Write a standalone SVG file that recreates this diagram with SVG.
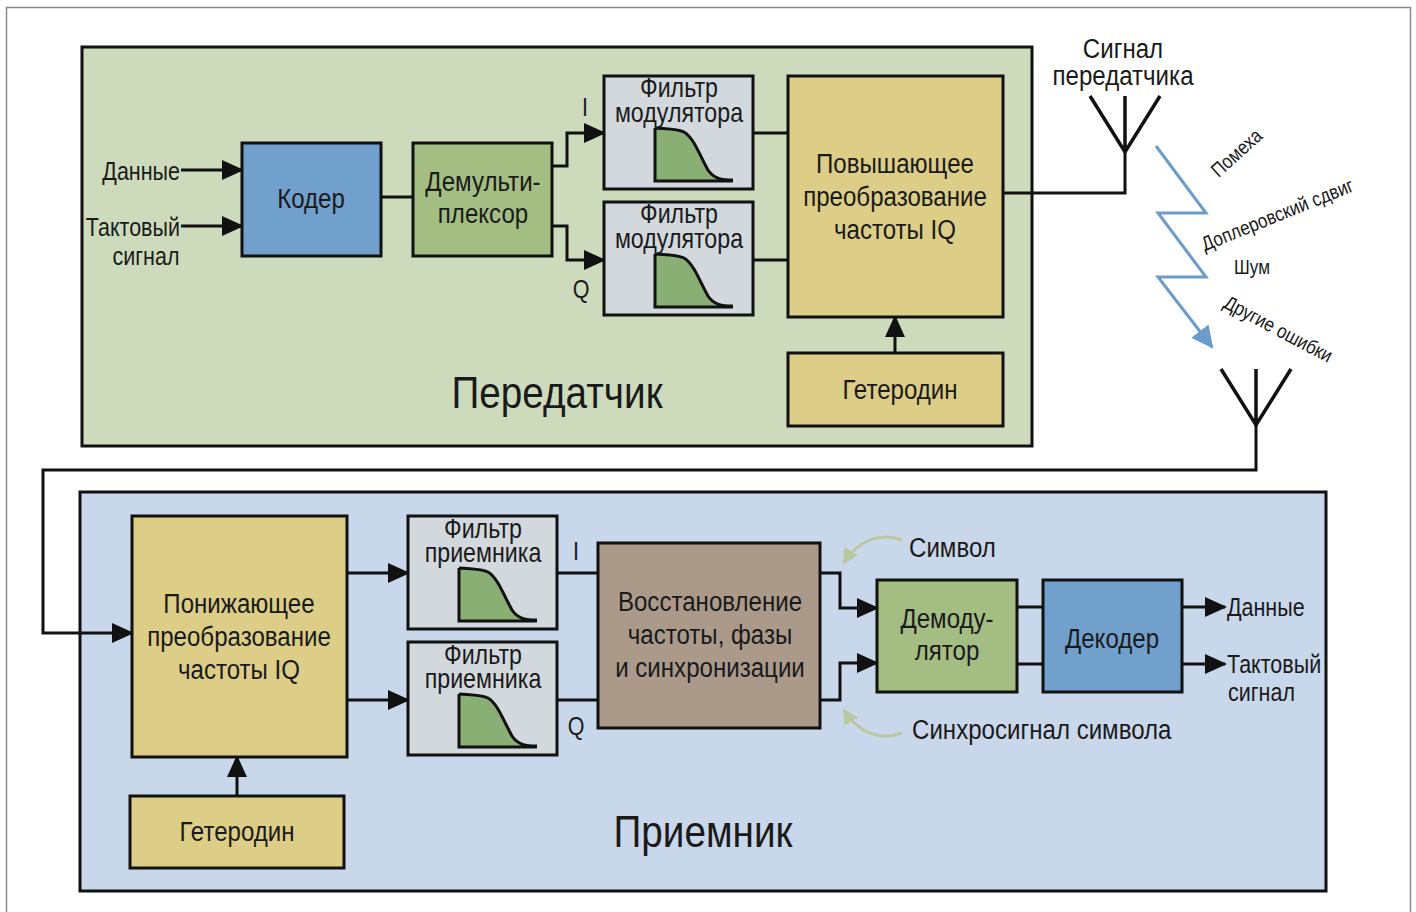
<svg xmlns="http://www.w3.org/2000/svg" xmlns:xlink="http://www.w3.org/1999/xlink" width="1416" height="912" viewBox="0 0 1416 912">
<style>
text{font-family:"Liberation Sans",Arial,sans-serif;fill:#1a1a1a}
.c{transform:scale(0.86,1)}
.t{font-size:28px;text-anchor:middle}
.f{font-size:27px;text-anchor:middle}
.s{font-size:25px}
.l{font-size:28px}
.m{text-anchor:middle}
.e{text-anchor:end}
.big{font-size:45px;text-anchor:middle}
.rot{font-size:20px;text-anchor:middle}
.box{stroke:#111;stroke-width:3}
.ln{fill:none;stroke:#111;stroke-width:3}
.ar{fill:none;stroke:#111;stroke-width:3;marker-end:url(#ah)}
.ant{fill:none;stroke:#111;stroke-width:3.5}
</style>
<defs>
<marker id="ah" markerUnits="userSpaceOnUse" markerWidth="22" markerHeight="20" viewBox="0 0 22 20" refX="20" refY="10" orient="auto"><path d="M0,0 L22,10 L0,20 Z" fill="#111"/></marker>
<marker id="ahb" markerUnits="userSpaceOnUse" markerWidth="22" markerHeight="22" viewBox="0 0 22 22" refX="20" refY="11" orient="auto"><path d="M0,0 L22,11 L0,22 Z" fill="#6c9ccb"/></marker>
<marker id="ahg" markerUnits="userSpaceOnUse" markerWidth="16" markerHeight="16" viewBox="0 0 16 16" refX="14" refY="8" orient="auto"><path d="M0,0 L16,8 L0,16 Z" fill="#b9c8a0"/></marker>
<g id="flt">
<rect x="0" y="0" width="149" height="113" fill="#d3d8dc" class="box"/>
<path d="M51,105 V52 C62,53 74,53 80,56 C90,62 96,80 104,94 C110,103 118,104 129,104 V105 Z" fill="#8aaf74"/>
<path d="M51,52 V105 H129 M51,52 C62,53 74,53 80,56 C90,62 96,80 104,94 C110,103 118,104 129,104" fill="none" stroke="#111" stroke-width="3"/>
</g>
</defs>
<rect x="6.5" y="7.5" width="1404" height="920" fill="#fff" stroke="#8a8a8a" stroke-width="1.5"/>

<g id="transmitter">
<rect x="82" y="47" width="950" height="399" fill="#cddbbc" class="box"/>
<text class="big c" x="647.67" y="408">Передатчик</text>
</g>
<g id="receiver">
<rect x="80" y="492" width="1246" height="399" fill="#c9d7ea" class="box"/>
<text class="big c" x="817.44" y="847">Приемник</text>
</g>

<g id="connectors">
<path class="ar" d="M181,170 H242"/>
<path class="ar" d="M181,226 H242"/>
<path class="ln" d="M381,197 H413"/>
<path class="ar" d="M552,166 H567 V133 H604"/>
<path class="ar" d="M552,226 H567 V260 H604"/>
<path class="ln" d="M753,133 H788 M753,260 H788"/>
<path class="ar" d="M895,353 V317"/>
<path class="ln" d="M1003,193 H1125 V152"/>
<path class="ar" d="M1256,425 V470 H43 V633 H132"/>
<path class="ar" d="M237,796 V757"/>
<path class="ar" d="M347,573 H408"/>
<path class="ar" d="M347,700 H408"/>
<path class="ln" d="M557,573 H598 M557,700 H598"/>
<path class="ar" d="M820,573 H840 V608 H877"/>
<path class="ar" d="M820,700 H840 V663 H877"/>
<path class="ln" d="M1017,607 H1043 M1017,664 H1043"/>
<path class="ar" d="M1182,607 H1225"/>
<path class="ar" d="M1182,664 H1225"/>
<path d="M1156,146 L1206,213 H1158 L1206,277 H1158 L1212,347" fill="none" stroke="#6c9ccb" stroke-width="3" marker-end="url(#ahb)"/>
<path d="M902,540 C880,532 858,540 844,563" fill="none" stroke="#b9c8a0" stroke-width="3" marker-end="url(#ahg)"/>
<path d="M902,733 C880,741 858,733 844,710" fill="none" stroke="#b9c8a0" stroke-width="3" marker-end="url(#ahg)"/>
</g>

<g id="tx-antenna">
<path class="ant" d="M1090,96 L1125,152 L1160,96 M1125,96 V152"/>
<text class="t c" x="1305.81" y="58">Сигнал</text>
<text class="t c" x="1305.81" y="85">передатчика</text>
</g>
<g id="rx-antenna">
<path class="ant" d="M1221,369 L1256,425 L1291,369 M1256,369 V425"/>
</g>
<g id="channel-labels">
<text class="rot" transform="translate(1241,158) rotate(-42) scale(0.86,1)">Помеха</text>
<text class="rot" transform="translate(1280,221) rotate(-22) scale(0.86,1)">Доплеровский сдвиг</text>
<text class="rot c" x="1455.81" y="274">Шум</text>
<text class="rot" transform="translate(1275,335) rotate(28) scale(0.86,1)">Другие ошибки</text>
</g>

<g id="in-labels">
<text class="s e c" x="209.3" y="180">Данные</text>
<text class="s e c" x="209.3" y="236">Тактовый</text>
<text class="s m c" x="169.77" y="265">сигнал</text>
</g>
<g id="coder"><rect x="242" y="143" width="139" height="113" fill="#71a0cc" class="box"/><text class="t c" x="361.63" y="208">Кодер</text></g>
<g id="demux"><rect x="413" y="143" width="139" height="113" fill="#a3bd82" class="box"/><text class="t c" x="561.63" y="191">Демульти-</text><text class="t c" x="561.63" y="223">плексор</text></g>
<g id="iq-tx"><text class="s m c" x="680.23" y="116">I</text><text class="s m c" x="675.58" y="298">Q</text></g>
<g id="modfilter-i"><use xlink:href="#flt" x="604" y="76"/><text class="f c" x="789.53" y="97">Фильтр</text><text class="f c" x="789.53" y="122">модулятора</text></g>
<g id="modfilter-q"><use xlink:href="#flt" x="604" y="202"/><text class="f c" x="789.53" y="223">Фильтр</text><text class="f c" x="789.53" y="248">модулятора</text></g>
<g id="upconv"><rect x="788" y="76" width="215" height="241" fill="#dccd87" class="box"/><text class="t c" x="1040.7" y="173">Повышающее</text><text class="t c" x="1040.7" y="206">преобразование</text><text class="t c" x="1040.7" y="239">частоты IQ</text></g>
<g id="lo-tx"><rect x="788" y="353" width="215" height="73" fill="#dccd87" class="box"/><text class="t c" x="1046.51" y="399">Гетеродин</text></g>

<g id="downconv"><rect x="132" y="516" width="215" height="241" fill="#dccd87" class="box"/><text class="t c" x="277.91" y="613">Понижающее</text><text class="t c" x="277.91" y="646">преобразование</text><text class="t c" x="277.91" y="679">частоты IQ</text></g>
<g id="lo-rx"><rect x="130" y="796" width="214" height="72" fill="#dccd87" class="box"/><text class="t c" x="275.58" y="841">Гетеродин</text></g>
<g id="rxfilter-i"><use xlink:href="#flt" x="408" y="516"/><text class="f c" x="561.63" y="538">Фильтр</text><text class="f c" x="561.63" y="562">приемника</text></g>
<g id="rxfilter-q"><use xlink:href="#flt" x="408" y="642"/><text class="f c" x="561.63" y="664">Фильтр</text><text class="f c" x="561.63" y="688">приемника</text></g>
<g id="iq-rx"><text class="s m c" x="669.77" y="560">I</text><text class="s m c" x="669.77" y="735">Q</text></g>
<g id="recovery"><rect x="598" y="543" width="222" height="185" fill="#ab998a" class="box"/><text class="t c" x="825.58" y="611">Восстановление</text><text class="t c" x="825.58" y="644">частоты, фазы</text><text class="t c" x="825.58" y="677">и синхронизации</text></g>
<g id="demod"><rect x="877" y="580" width="140" height="112" fill="#a3bd82" class="box"/><text class="t c" x="1101.16" y="628">Демоду-</text><text class="t c" x="1101.16" y="660">лятор</text></g>
<g id="decoder"><rect x="1043" y="580" width="139" height="112" fill="#71a0cc" class="box"/><text class="t c" x="1293.02" y="648">Декодер</text></g>
<g id="out-labels">
<text class="s c" x="1426.74" y="616">Данные</text>
<text class="s c" x="1426.74" y="673">Тактовый</text>
<text class="s c" x="1427.91" y="701">сигнал</text>
<text class="l c" x="1056.98" y="557">Символ</text>
<text class="l c" x="1060.47" y="739">Синхросигнал символа</text>
</g>
</svg>
